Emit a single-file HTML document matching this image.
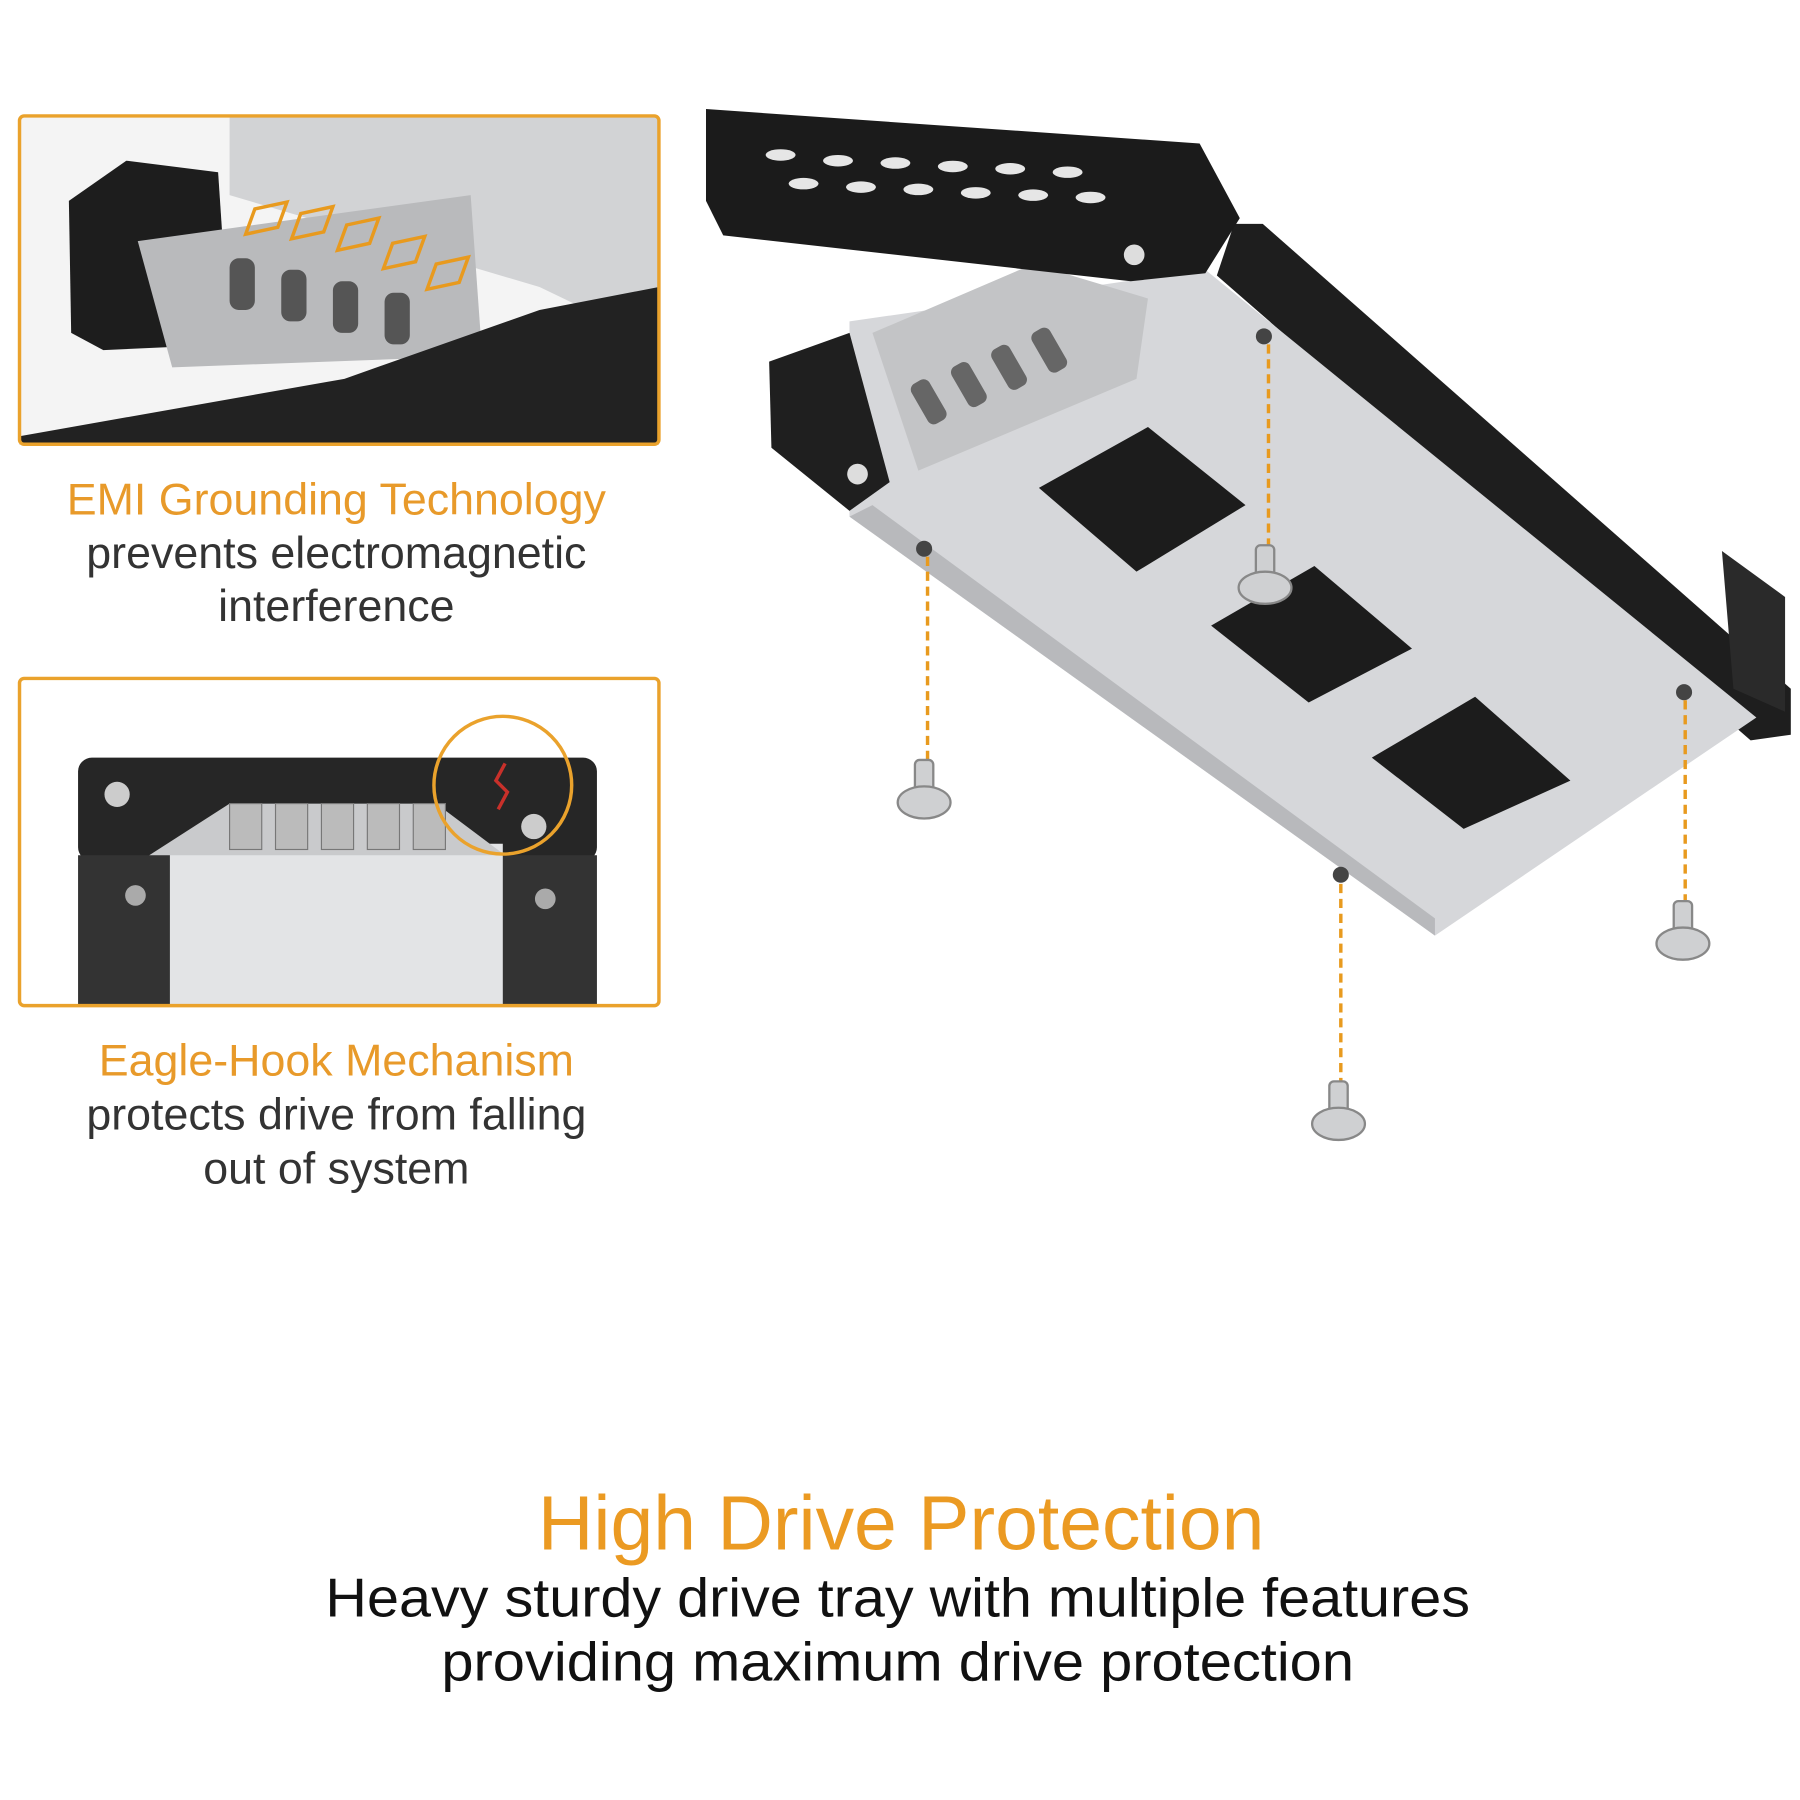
<!DOCTYPE html>
<html><head><meta charset="utf-8"><style>
html,body{margin:0;padding:0;background:#fff}
svg{display:block}
text{font-family:"Liberation Sans",sans-serif}
</style></head><body>
<svg width="1800" height="1800" viewBox="0 0 1568 1568" xmlns="http://www.w3.org/2000/svg">
<rect width="1568" height="1568" fill="#fff"/>
<!-- Box 1 -->
<g>
<rect x="17" y="101" width="557" height="286" fill="#f4f4f4"/>
<polygon points="200,101 574,101 574,300 470,250 200,170" fill="#d2d3d5"/>
<polygon points="60,175 110,140 190,150 200,300 90,305 62,290" fill="#1d1d1d"/>
<polygon points="120,210 410,170 420,310 150,320" fill="#b9babc"/>
<g fill="#555"><rect x="200" y="225" width="22" height="45" rx="8"/><rect x="245" y="235" width="22" height="45" rx="8"/><rect x="290" y="245" width="22" height="45" rx="8"/><rect x="335" y="255" width="22" height="45" rx="8"/></g>
<polygon points="17,380 300,330 470,270 574,250 574,387 17,387" fill="#222"/>
<g fill="none" stroke="#e89a1e" stroke-width="3"><path d="M222,182 l28,-6 l-8,22 l-28,6z M262,186 l28,-6 l-8,22 l-28,6z M302,196 l28,-6 l-8,22 l-28,6z M342,212 l28,-6 l-8,22 l-28,6z M380,230 l28,-6 l-8,22 l-28,6z"/></g>
<rect x="17" y="101" width="557" height="286" rx="4" fill="none" stroke="#eaa22c" stroke-width="3"/>
</g>
<!-- Box 2 -->
<g>
<rect x="17" y="591" width="557" height="285" fill="#fff"/>
<rect x="68" y="660" width="452" height="90" rx="12" fill="#262626"/>
<rect x="68" y="745" width="452" height="131" fill="#333"/>
<rect x="148" y="735" width="290" height="141" fill="#e3e4e6"/>
<polygon points="130,745 200,700 380,700 440,745" fill="#c9cacc"/>
<g fill="#bbb" stroke="#777"><rect x="200" y="700" width="28" height="40"/><rect x="240" y="700" width="28" height="40"/><rect x="280" y="700" width="28" height="40"/><rect x="320" y="700" width="28" height="40"/><rect x="360" y="700" width="28" height="40"/></g>
<circle cx="102" cy="692" r="11" fill="#ccc"/><circle cx="465" cy="720" r="11" fill="#ccc"/><circle cx="118" cy="780" r="9" fill="#aaa"/><circle cx="475" cy="783" r="9" fill="#aaa"/>
<circle cx="438" cy="684" r="60" fill="none" stroke="#eaa22c" stroke-width="3"/>
<path d="M440,665 l-8,15 l10,10 l-8,15" fill="none" stroke="#c8302a" stroke-width="3"/>
<rect x="17" y="591" width="557" height="285" rx="4" fill="none" stroke="#eaa22c" stroke-width="3"/>
</g>
<!-- captions -->
<g text-anchor="middle" font-size="39">
<text x="293" y="448" fill="#e89a2a">EMI Grounding Technology</text>
<text x="293" y="495" fill="#333">prevents electromagnetic</text>
<text x="293" y="541" fill="#333">interference</text>
<text x="293" y="937" fill="#e89a2a">Eagle-Hook Mechanism</text>
<text x="293" y="984" fill="#333">protects drive from falling</text>
<text x="293" y="1031" fill="#333">out of system</text>
<text x="785" y="1350" font-size="67" fill="#eb9a22">High Drive Protection</text>
<text x="782" y="1408" font-size="48" fill="#111" textLength="997" lengthAdjust="spacingAndGlyphs">Heavy sturdy drive tray with multiple features</text>
<text x="782" y="1464" font-size="48" fill="#111" textLength="795" lengthAdjust="spacingAndGlyphs">providing maximum drive protection</text>
</g>
<!-- Tray -->
<polygon points="1075,195 1100,195 1560,600 1560,640 1525,645 1060,240" fill="#1e1e1e"/>
<polygon points="1500,480 1555,520 1555,620 1510,600" fill="#2a2a2a"/>
<polygon points="740,280 1050,235 1530,625 1250,815 740,450" fill="#d6d7da"/>
<polygon points="740,450 1250,815 1250,800 760,440" fill="#b8b9bc"/>
<polygon points="670,315 740,290 775,420 740,445 672,390" fill="#1f1f1f"/>
<polygon points="760,290 900,230 1000,260 990,330 800,410" fill="#c3c4c6"/>
<g fill="#666"><rect x="800" y="330" width="18" height="40" rx="6" transform="rotate(-30 809 350)"/><rect x="835" y="315" width="18" height="40" rx="6" transform="rotate(-30 844 335)"/><rect x="870" y="300" width="18" height="40" rx="6" transform="rotate(-30 879 320)"/><rect x="905" y="285" width="18" height="40" rx="6" transform="rotate(-30 914 305)"/></g>
<polygon points="615,95 1045,125 1080,190 1050,238 985,245 630,205 615,175" fill="#1b1b1b"/>
<g fill="#e6e6e6">
<ellipse cx="680" cy="135" rx="13" ry="5"/><ellipse cx="730" cy="140" rx="13" ry="5"/><ellipse cx="780" cy="142" rx="13" ry="5"/><ellipse cx="830" cy="145" rx="13" ry="5"/><ellipse cx="880" cy="147" rx="13" ry="5"/><ellipse cx="930" cy="150" rx="13" ry="5"/>
<ellipse cx="700" cy="160" rx="13" ry="5"/><ellipse cx="750" cy="163" rx="13" ry="5"/><ellipse cx="800" cy="165" rx="13" ry="5"/><ellipse cx="850" cy="168" rx="13" ry="5"/><ellipse cx="900" cy="170" rx="13" ry="5"/><ellipse cx="950" cy="172" rx="13" ry="5"/>
</g>
<circle cx="988" cy="222" r="9" fill="#ddd"/><circle cx="747" cy="413" r="9" fill="#ddd"/>
<polygon points="905,425 1000,372 1085,440 990,498" fill="#1c1c1c"/>
<polygon points="1055,545 1145,493 1230,565 1140,612" fill="#1c1c1c"/>
<polygon points="1195,660 1285,607 1368,680 1275,722" fill="#1c1c1c"/>
<g fill="#444"><circle cx="1101" cy="293" r="7"/><circle cx="805" cy="478" r="7"/><circle cx="1168" cy="762" r="7"/><circle cx="1467" cy="603" r="7"/></g>
<g stroke="#e89a1e" stroke-width="3" stroke-dasharray="8,5">
<line x1="1105" y1="300" x2="1105" y2="480"/><line x1="808" y1="485" x2="808" y2="668"/><line x1="1168" y1="770" x2="1168" y2="948"/><line x1="1468" y1="610" x2="1468" y2="790"/>
</g>
<g fill="#cfd0d2" stroke="#888" stroke-width="2">
<rect x="1094" y="475" width="16" height="28" rx="4"/><ellipse cx="1102" cy="512" rx="23" ry="14"/>
<rect x="797" y="662" width="16" height="28" rx="4"/><ellipse cx="805" cy="699" rx="23" ry="14"/>
<rect x="1158" y="942" width="16" height="28" rx="4"/><ellipse cx="1166" cy="979" rx="23" ry="14"/>
<rect x="1458" y="785" width="16" height="28" rx="4"/><ellipse cx="1466" cy="822" rx="23" ry="14"/>
</g>
</svg>
</body></html>
